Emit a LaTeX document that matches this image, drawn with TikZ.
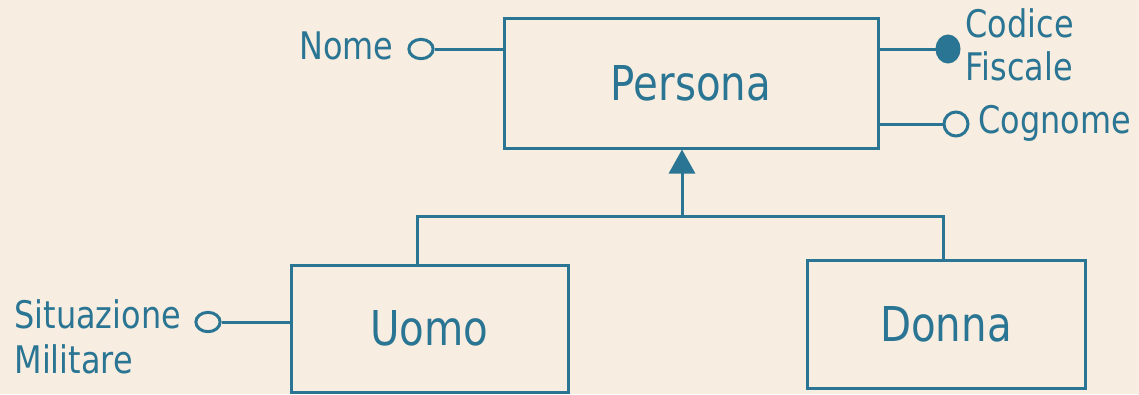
\documentclass[tikz,border=0pt]{standalone}
\usepackage{fontspec}
\setmainfont{DejaVu Sans}[FakeStretch=0.84]
\usetikzlibrary{arrows.meta,shapes.geometric}
\definecolor{bg}{HTML}{F7EDE0}
\definecolor{ink}{HTML}{2A7593}
\begin{document}
\begin{tikzpicture}[x=0.75pt,y=-0.75pt,
  every path/.style={line width=2.25pt},
  entity/.style={draw=ink,rectangle,inner sep=0pt,text=ink,font=\fontsize{36}{42}\selectfont},
  attrtext/.style={text=ink,inner sep=0pt,font=\fontsize{28.5}{34}\selectfont},
  attrc/.style={draw=ink,ellipse,inner sep=0pt,line width=2.25pt},
  conn/.style={draw=ink,line width=2.25pt},
  gen/.style={draw=ink,line width=2.25pt,-{Triangle[width=19.5pt,length=18pt]}}]
\fill[bg] (0,0) rectangle (1139,394);
\useasboundingbox (0,0) rectangle (1139,394);
% entities
\node[entity,minimum width=280.5pt,minimum height=97.5pt] (persona) at (691,83) {Persona};
\node[entity,minimum width=207.75pt,minimum height=95.25pt] (uomo) at (429.5,328.5) {Uomo};
\node[entity,minimum width=208.5pt,minimum height=96pt] (donna) at (946,324) {Donna};
% attribute circles
\node[attrc,minimum width=18.2pt,minimum height=14.5pt] (nomec) at (421,49) {};
\node[attrc,fill=ink,minimum width=16.5pt,minimum height=19.5pt] (cfc) at (948,49) {};
\node[attrc,minimum width=18pt,minimum height=18pt] (cognc) at (956,124) {};
\node[attrc,minimum width=18.2pt,minimum height=14.5pt] (sitc) at (208,322) {};
% attribute texts
\node[attrtext,anchor=base east] (nome) at (395,59) {Nome};
\node[attrtext,anchor=base west] (codice) at (964,37) {Codice};
\node[attrtext,anchor=base west] (fiscale) at (964,80) {Fiscale};
\node[attrtext,anchor=base west] (cognome) at (977,133) {Cognome};
\node[attrtext,anchor=base west] (situaz) at (13,328) {Situazione};
\node[attrtext,anchor=base west] (milit) at (13,373) {Militare};
% attribute links
\draw[conn] (nomec.east) -- (nomec.east -| persona.west);
\draw[conn] (cfc.west) -- (cfc.west -| persona.east);
\draw[conn] (cognc.west) -- (cognc.west -| persona.east);
\draw[conn] (sitc.east) -- (sitc.east -| uomo.west);
% generalization
\coordinate (j) at (682,216);
\coordinate (ju) at (417,216);
\coordinate (jd) at (943,216);
\draw[conn] (ju |- uomo.north) -- (ju) -- (jd) -- (jd |- donna.north);
\draw[gen] (j) -- (j |- persona.south);
\end{tikzpicture}
\end{document}
